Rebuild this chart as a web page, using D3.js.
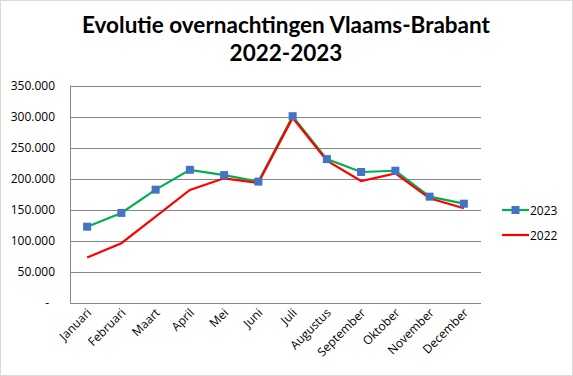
<!DOCTYPE html>
<html><head><meta charset="utf-8">
<script src="https://cdn.jsdelivr.net/npm/d3@7"></script>
<style>body{margin:0;background:#fff}</style>
</head><body><svg id="c" width="573" height="376"></svg>
<script>
const months = ["Januari","Februari","Maart","April","Mei","Juni","Juli","Augustus","September","Oktober","November","December"];
const values2023 = [122300,144500,182000,214000,205500,195000,300500,231300,210500,212500,170700,159400];
const values2022 = [72500,95600,138500,181500,200300,193000,297800,228600,195900,208300,168000,152000];
const yTicks = [0,50000,100000,150000,200000,250000,300000,350000];
const seriesNames = ["2023","2022"];

(function(){
const svg = d3.select("#c");
const FONT = "'Open Sans', Lato, sans-serif";
svg.append("rect").attr("x",0.5).attr("y",0.5).attr("width",572).attr("height",375).attr("fill","#fff").attr("stroke","#d9d9d9");

const title = svg.append("text").attr("text-anchor","middle").attr("font-family","Lato, 'Open Sans', sans-serif").attr("font-weight","bold").attr("font-size",22.5).attr("fill","#000");
title.append("tspan").attr("x",286).attr("y",33).text("Evolutie overnachtingen Vlaams-Brabant");
title.append("tspan").attr("x",286).attr("y",61).text("2022-2023");

const pl=70, pr=481, pt=85.5, pb=302.5;
const x = d3.scaleBand().domain(months).range([pl,pr]);
const y = d3.scaleLinear().domain([0,350000]).range([pb,pt]);

const fmt = v => v===0 ? "-" : d3.format(",")(v).replace(/,/g,".");

const g = svg.append("g");
g.selectAll("line.grid").data(yTicks).join("line")
  .attr("x1",pl).attr("x2",pr)
  .attr("y1",d=>Math.round(y(d))+0.5).attr("y2",d=>Math.round(y(d))+0.5)
  .attr("stroke","#868686").attr("stroke-width",1);
g.append("line").attr("x1",pl+0.5).attr("x2",pl+0.5).attr("y1",pt).attr("y2",pb).attr("stroke","#868686");

g.selectAll("text.yl").data(yTicks).join("text")
  .attr("x",d=>d===0?49:55).attr("y",d=>y(d)+4.2)
  .attr("text-anchor","end").attr("font-family",FONT).attr("font-size",12).attr("fill","#000")
  .text(fmt);

g.selectAll("text.xl").data(months).join("text")
  .attr("transform",d=>`translate(${x(d)+x.bandwidth()/2+5},${pb+11}) rotate(-45)`)
  .attr("text-anchor","end").attr("font-family",FONT).attr("font-size",12).attr("fill","#000")
  .text(d=>d);

const line = d3.line().x((d,i)=>x(months[i])+x.bandwidth()/2).y(d=>y(d));
g.append("path").datum(values2023).attr("d",line).attr("fill","none").attr("stroke","#00B050").attr("stroke-width",2.2);
g.append("path").datum(values2022).attr("d",line).attr("fill","none").attr("stroke","#FF0000").attr("stroke-width",2.2);
g.selectAll("rect.m").data(values2023).join("rect")
  .attr("x",(d,i)=>x(months[i])+x.bandwidth()/2-4).attr("y",d=>y(d)-4)
  .attr("width",8).attr("height",8).attr("fill","#4472C4");

const lg = svg.append("g");
lg.append("line").attr("x1",502).attr("x2",529).attr("y1",210).attr("y2",210).attr("stroke","#00B050").attr("stroke-width",2.2);
lg.append("rect").attr("x",511.5).attr("y",206).attr("width",8).attr("height",8).attr("fill","#4472C4");
lg.append("text").attr("x",530).attr("y",214.5).attr("font-family",FONT).attr("font-size",12).text(seriesNames[0]);
lg.append("line").attr("x1",502).attr("x2",529).attr("y1",235).attr("y2",235).attr("stroke","#FF0000").attr("stroke-width",2.2);
lg.append("text").attr("x",530).attr("y",239.5).attr("font-family",FONT).attr("font-size",12).text(seriesNames[1]);
})();
</script></body></html>
